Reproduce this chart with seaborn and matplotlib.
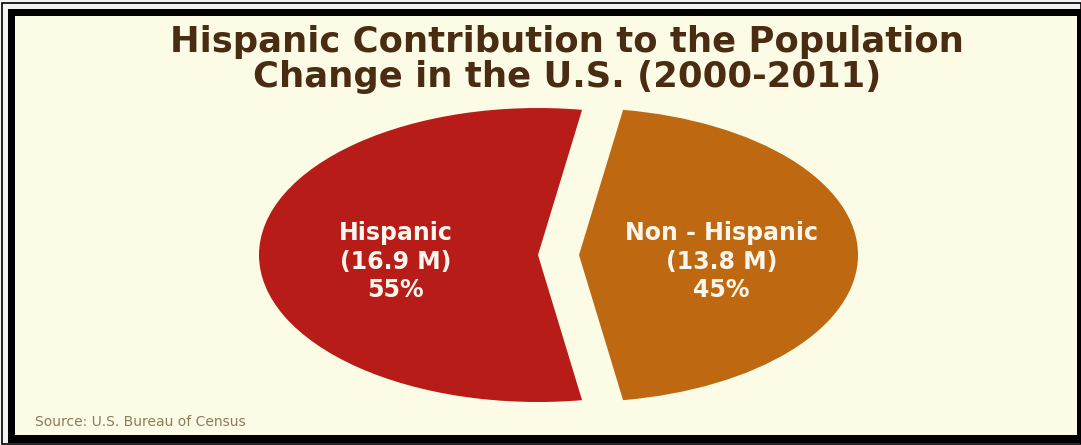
import matplotlib
matplotlib.use("Agg")
import matplotlib.pyplot as plt
from matplotlib.patches import Rectangle
import seaborn as sns

# Population change 2000-2011, millions
groups = ["Hispanic", "Non - Hispanic"]
change_millions = [16.9, 13.8]
slice_colors = ["#b81c19", "#be6912"]

title_lines = ["Hispanic Contribution to the Population",
               "Change in the U.S. (2000-2011)"]
source_note = "Source: U.S. Bureau of Census"

sns.set_theme(style="white")
plt.rcParams["font.family"] = ["DejaVu Sans"]

W, H = 1081, 445
fig = plt.figure(figsize=(W / 100, H / 100), dpi=100)
fig.patch.set_facecolor("#f4f4f2")

# Frame layer in pixel coordinates
frame = fig.add_axes([0, 0, 1, 1])
frame.set_xlim(0, W)
frame.set_ylim(H, 0)
frame.axis("off")
frame.add_patch(Rectangle((1.5, 2.5), W - 2, H - 4, facecolor="none",
                          edgecolor="black", lw=1.2))
frame.add_patch(Rectangle((8, 9), W - 8, 434, facecolor="black", lw=0))
frame.add_patch(Rectangle((15, 16), 1062, 419, facecolor="#fcfbe6", lw=0))

# Pie axes: unit radius maps to an ellipse of 279 x 147 px centred at (558, 255)
cx, cy, rx, ry = 558.5, 255.0, 279.0, 147.0
ax = fig.add_axes([0, 0, 1, 1])
ax.patch.set_alpha(0)

total = sum(change_millions)
labels = [f"{g}\n({v:.1f} M)\n{round(100 * v / total):.0f}%"
          for g, v in zip(groups, change_millions)]
start = 180 - 180 * change_millions[0] / total

wedges, texts = ax.pie(
    change_millions,
    labels=labels,
    colors=slice_colors,
    startangle=start,
    explode=[0.0735, 0.0735],
    labeldistance=0.51,
    wedgeprops=dict(linewidth=0),
    textprops=dict(color="#fdf6ec", fontsize=17, fontweight="bold",
                   ha="center", va="center", multialignment="center",
                   linespacing=1.22),
)
for t in texts:
    x, y = t.get_position()
    t.set_position((x, y - 0.045))

ax.set_aspect("auto")
ax.set_xlim(-cx / rx, (W - cx) / rx)
ax.set_ylim((cy - H) / ry, cy / ry)
ax.axis("off")

# Title and source
frame.text(567, 25, "\n".join(title_lines), ha="center", va="top",
           fontsize=25.5, fontweight="bold", color="#4a2c12", linespacing=1.02)
frame.text(35, 422, source_note, ha="left", va="center", fontsize=10,
           color="#8c7b5e")

fig.savefig("out.png", dpi=100, facecolor=fig.get_facecolor())
